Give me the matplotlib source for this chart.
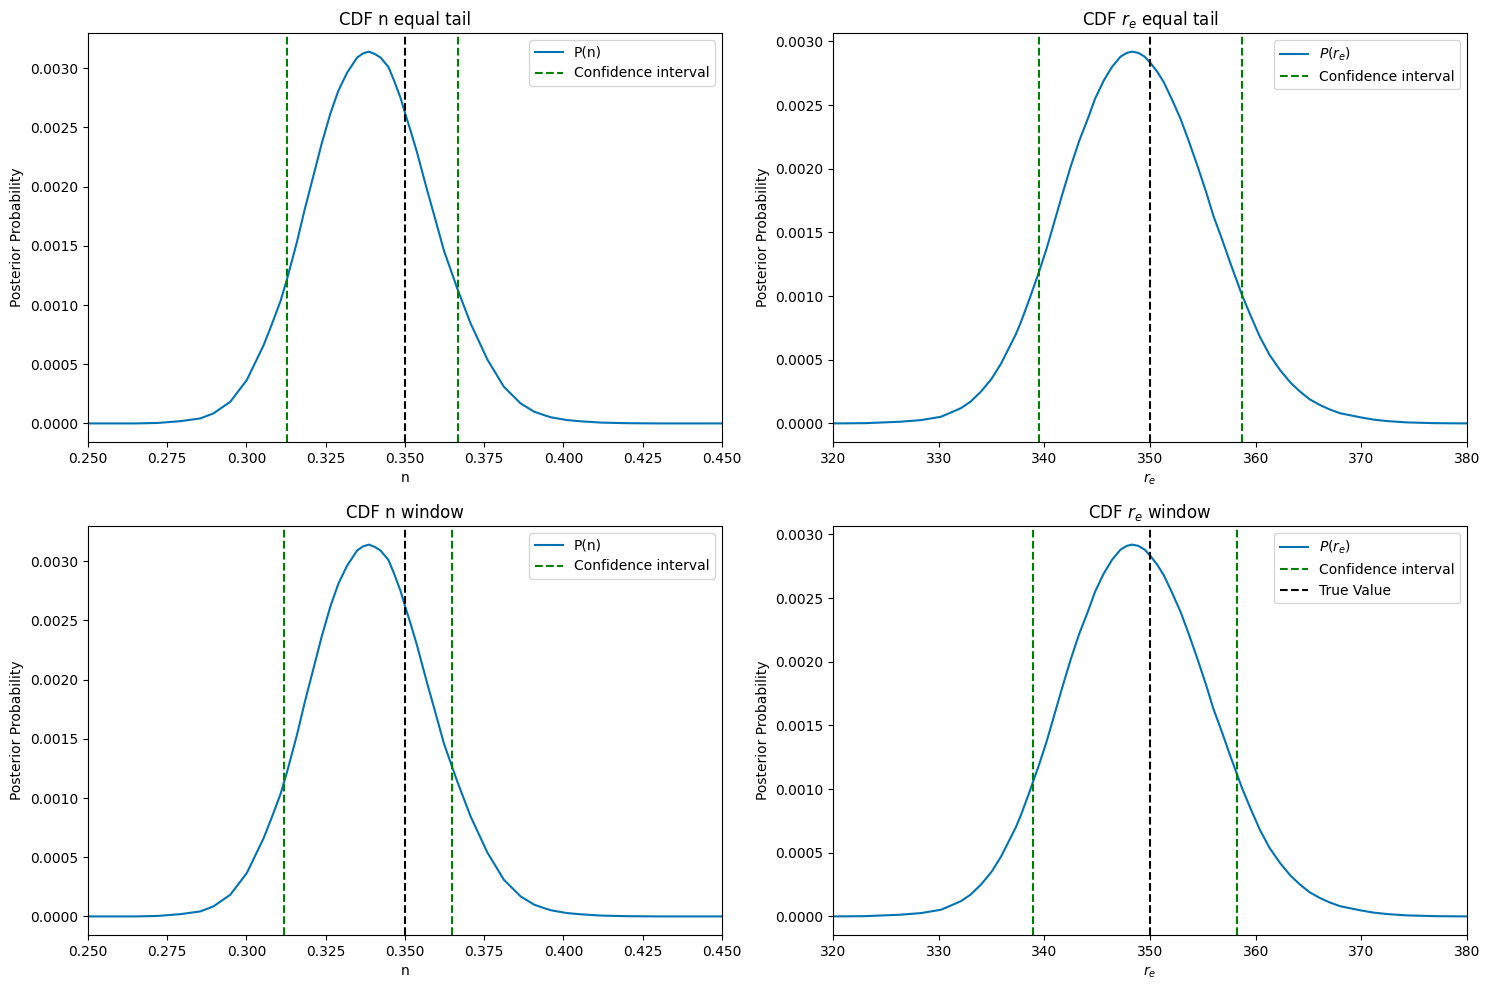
import matplotlib
matplotlib.use('Agg')
import matplotlib.pyplot as plt

# values
n_vals = [0.250, 0.265, 0.272, 0.2791, 0.2854, 0.2896, 0.2949, 0.3001, 0.3027, 0.3054,
          0.3079, 0.3107, 0.3128, 0.3159, 0.3184, 0.3212, 0.3237, 0.3265, 0.3290, 0.3317,
          0.3349, 0.3368, 0.3386, 0.3405, 0.3423, 0.3448, 0.3465, 0.3486, 0.3497, 0.3518,
          0.3538, 0.3570, 0.3591, 0.3623, 0.3665, 0.3707, 0.3760, 0.3812, 0.3865, 0.3907,
          0.3939, 0.3960, 0.4012, 0.4054, 0.4118, 0.420, 0.430, 0.450]
p_n = [0.0, 0.0, 0.000004, 0.000019, 0.000042, 0.000085, 0.000183, 0.000366, 0.00051, 0.00066,
       0.00083, 0.00103, 0.00122, 0.00153, 0.00181, 0.00210, 0.00236, 0.00262, 0.00281, 0.00296,
       0.00309, 0.003125, 0.00314, 0.00312, 0.00309, 0.00301, 0.00290, 0.00275, 0.00265, 0.00247,
       0.00229, 0.00197, 0.00177, 0.00146, 0.00114, 0.000845, 0.00054, 0.00031, 0.000169, 0.0001,
       0.00007, 0.000052, 0.000028, 0.000018, 0.000007, 0.000002, 0.0, 0.0]

r_vals = [320.0, 323.0, 326.3, 328.3, 330.2, 331.0, 332.1, 333.0, 334.0, 335.0,
          335.9, 337.3, 337.8, 338.6, 339.45, 340.2, 340.9, 341.7, 342.5, 343.3,
          344.1, 344.8, 345.6, 346.4, 347.2, 347.8, 348.3, 348.9, 349.5, 350.05,
          350.7, 351.3, 352.1, 352.9, 353.7, 354.5, 355.3, 356.0, 356.8, 357.6,
          358.7, 359.5, 360.4, 361.3, 362.3, 363.3, 364.2, 365.1, 366.1, 367.0,
          368.0, 369.9, 371.15, 372.5, 374.3, 377.0, 380.0]
p_r = [0.0, 0.000002, 0.000013, 0.000026, 0.000052, 0.00008, 0.00012, 0.00017, 0.00025, 0.00035,
       0.00047, 0.00070, 0.00080, 0.00098, 0.00118, 0.00137, 0.00157, 0.00180, 0.00202, 0.00222,
       0.00239, 0.00255, 0.00269, 0.00280, 0.00288, 0.00291, 0.00292, 0.00291, 0.00288, 0.00283,
       0.00276, 0.00268, 0.00254, 0.00239, 0.00221, 0.00202, 0.00182, 0.00163, 0.00145, 0.00126,
       0.00101, 0.00085, 0.00068, 0.00054, 0.00042, 0.00032, 0.00025, 0.00019, 0.000144, 0.00011,
       0.00008, 0.000048, 0.00003, 0.000018, 0.000008, 0.000002, 0.0]

true_n = 0.35
true_r = 350.0
ci_n_tail = [0.3129, 0.3666]
ci_n_window = [0.3118, 0.3649]
ci_r_tail = [339.45, 358.7]
ci_r_window = [338.97, 358.2]

blue = '#0173B2'

fig, axes = plt.subplots(2, 2, figsize=(14.89, 9.89), dpi=100)
plt.subplots_adjust(left=0.0591, right=0.9852, top=0.9666, bottom=0.0546,
                    wspace=0.1754, hspace=0.2054)


def draw(ax, x, y, ci, true, xlab, curve_lab, title, xlim, true_lab=False):
    ax.plot(x, y, color=blue, label=curve_lab)
    ax.axvline(ci[0], color='green', ls='--', label='Confidence interval')
    ax.axvline(ci[1], color='green', ls='--')
    if true_lab:
        ax.axvline(true, color='k', ls='--', label='True Value')
    else:
        ax.axvline(true, color='k', ls='--')
    ax.set_xlim(xlim)
    ax.set_xlabel(xlab)
    ax.set_ylabel('Posterior Probability')
    ax.set_title(title)
    ax.legend()


draw(axes[0, 0], n_vals, p_n, ci_n_tail, true_n, 'n', 'P(n)', 'CDF n equal tail', (0.25, 0.45))
draw(axes[0, 1], r_vals, p_r, ci_r_tail, true_r, '$r_e$', '$P(r_e)$', 'CDF $r_e$ equal tail', (320, 380))
draw(axes[1, 0], n_vals, p_n, ci_n_window, true_n, 'n', 'P(n)', 'CDF n window', (0.25, 0.45))
draw(axes[1, 1], r_vals, p_r, ci_r_window, true_r, '$r_e$', '$P(r_e)$', 'CDF $r_e$ window', (320, 380),
     true_lab=True)

plt.savefig('out.png')
